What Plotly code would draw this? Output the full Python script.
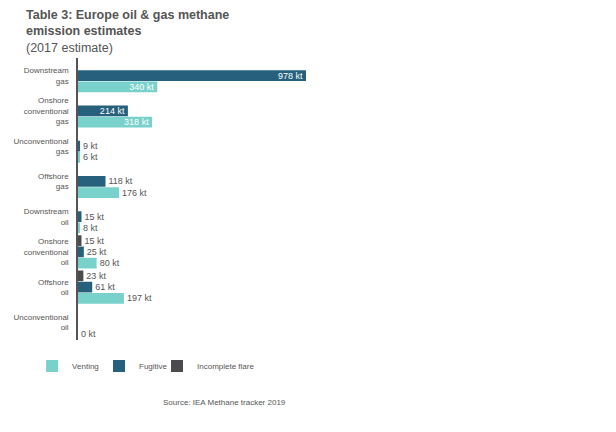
import plotly.graph_objects as go

categories = [
    "Downstream<br>gas",
    "Onshore<br>conventional<br>gas",
    "Unconventional<br>gas",
    "Offshore<br>gas",
    "Downstream<br>oil",
    "Onshore<br>conventional<br>oil",
    "Offshore<br>oil",
    "Unconventional<br>oil",
]
venting = [340, 318, 6, 176, 8, 80, 197, 0]
fugitive = [978, 214, 9, 118, 15, 25, 61, None]
flare = [None, None, None, None, None, 15, 23, None]

C_VENT = "#79d1cb"
C_FUG = "#26607c"
C_FLARE = "#4b4b4d"
GREY = "#555555"
INSIDE_MIN = 200  # values big enough get a white label inside the bar


def labels(vals):
    return ["" if v is None else f"{v} kt" for v in vals]


def positions(vals):
    return ["inside" if (v is not None and v >= INSIDE_MIN) else "outside" for v in vals]


series = [("Venting", venting, C_VENT, "legend"),
          ("Fugitive", fugitive, C_FUG, "legend2"),
          ("Incomplete flare", flare, C_FLARE, "legend3")]

fig = go.Figure()
for name, vals, col, leg in series:
    fig.add_trace(go.Bar(
        y=categories, x=vals, name=name, orientation="h", legend=leg,
        marker=dict(color=col, line=dict(width=0)),
        text=labels(vals), textposition=positions(vals),
        insidetextanchor="end", constraintext="none", textangle=0,
        insidetextfont=dict(color="white", size=9, family="Liberation Sans"),
        outsidetextfont=dict(color=GREY, size=9, family="Liberation Sans"),
        cliponaxis=False,
    ))

# one small legend per series so each can sit where the reference has it
leg_style = dict(orientation="h", xanchor="left", y=-0.041, yanchor="top",
                 font=dict(size=8, color=GREY), itemwidth=30,
                 bgcolor="rgba(0,0,0,0)")

fig.update_layout(
    width=616, height=432,
    barmode="group", bargap=0.04, bargroupgap=0.05,
    paper_bgcolor="white", plot_bgcolor="white",
    margin=dict(l=70, r=63, t=50, b=100, autoexpand=False),
    font=dict(family="Liberation Sans", color=GREY, size=8),
    xaxis=dict(range=[0, 2072], visible=False, fixedrange=True, automargin=False),
    yaxis=dict(
        categoryorder="array", categoryarray=categories[::-1],
        showline=True, linecolor=GREY, linewidth=1.5,
        ticks="", showgrid=False, ticklabelstandoff=6, automargin=False,
        tickfont=dict(size=8, color=GREY),
    ),
    legend=dict(x=-0.095, **leg_style),
    legend2=dict(x=0.0435, **leg_style),
    legend3=dict(x=0.1636, **leg_style),
    showlegend=True,
)

fig.add_annotation(
    text="<b>Table 3: Europe oil & gas methane<br>emission estimates</b><br><span style='font-size:12.5px'>(2017 estimate)</span>",
    xref="paper", yref="paper", x=-0.112, y=1.183, xanchor="left", yanchor="top",
    align="left", showarrow=False,
    font=dict(family="Liberation Sans", size=12.5, color=GREY),
)

fig.add_annotation(
    text="Source: IEA Methane tracker 2019", xref="paper", yref="paper",
    x=0.171, y=-0.2234, xanchor="left", yanchor="middle", showarrow=False,
    font=dict(size=8, color=GREY),
)

fig.write_html("out.html")
